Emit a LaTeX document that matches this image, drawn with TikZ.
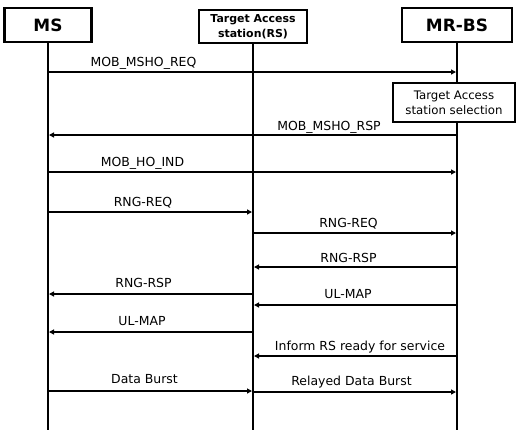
\documentclass[tikz,border=0pt]{standalone}
\usepackage{fontspec}
\setmainfont{DejaVu Sans}
\usetikzlibrary{arrows.meta}
\begin{document}
\begin{tikzpicture}[x=1bp,y=-1bp,
  lifeline/.style={line width=2.8bp},
  actor/.style={draw,line width=2.4bp,fill=white,inner sep=0pt,align=center,
    font=\bfseries\fontsize{17}{19}\selectfont},
  msg/.style={line width=2bp,-{Triangle[length=5bp,width=5bp]},shorten >=1bp},
  lbl/.style={anchor=base,inner sep=0pt,font=\fontsize{12.5}{14}\selectfont},
  note/.style={draw,line width=2.2bp,fill=white,inner sep=0pt,align=center,
    font=\fontsize{11.8}{15}\selectfont}]
\useasboundingbox (0,0) rectangle (519,430);

% participants
\node[actor,minimum width=87bp,minimum height=34bp] (ms) at (48,25) {MS};
\node[actor,minimum width=108bp,minimum height=33bp,
  font=\bfseries\fontsize{11}{15}\selectfont] (rs) at (253,26.5)
  {Target Access\\station(RS)};
\node[actor,minimum width=110bp,minimum height=34bp] (bs) at (457,25) {MR-BS};

% lifelines
\coordinate (msEnd) at (48,430);
\coordinate (rsEnd) at (253,430);
\coordinate (bsEnd) at (457,430);
\draw[lifeline] (ms.south) -- (msEnd);
\draw[lifeline] (rs.south) -- (rsEnd);
\draw[lifeline] (bs.south) -- (bsEnd);

% processing step at the base station
\node[note,minimum width=122bp,minimum height=39bp] (sel) at (454,102.5)
  {Target Access\\station selection};

% messages
\draw[msg] (ms |- 0,72) -- (bs |- 0,72);
\node[lbl] (l1) at (143.5,66) {MOB\_MSHO\_REQ};

\draw[msg] (bs |- 0,135) -- (ms |- 0,135);
\node[lbl] (l2) at (329,130) {MOB\_MSHO\_RSP};

\draw[msg] (ms |- 0,172) -- (bs |- 0,172);
\node[lbl] (l3) at (142.5,166) {MOB\_HO\_IND};

\draw[msg] (ms |- 0,212) -- (rs |- 0,212);
\node[lbl] (l4) at (143,206) {RNG-REQ};

\draw[msg] (rs |- 0,233) -- (bs |- 0,233);
\node[lbl] (l5) at (348.5,227) {RNG-REQ};

\draw[msg] (bs |- 0,267) -- (rs |- 0,267);
\node[lbl] (l6) at (348.5,262) {RNG-RSP};

\draw[msg] (rs |- 0,294) -- (ms |- 0,294);
\node[lbl] (l7) at (143.5,287) {RNG-RSP};

\draw[msg] (bs |- 0,305) -- (rs |- 0,305);
\node[lbl] (l8) at (348,298) {UL-MAP};

\draw[msg] (rs |- 0,332) -- (ms |- 0,332);
\node[lbl] (l9) at (142,325) {UL-MAP};

\draw[msg] (bs |- 0,356) -- (rs |- 0,356);
\node[lbl] (l10) at (360,350) {Inform RS ready for service};

\draw[msg] (ms |- 0,391) -- (rs |- 0,391);
\node[lbl] (l11) at (144.5,383) {Data Burst};

\draw[msg] (rs |- 0,392) -- (bs |- 0,392);
\node[lbl] (l12) at (351.5,385) {Relayed Data Burst};
\end{tikzpicture}
\end{document}
